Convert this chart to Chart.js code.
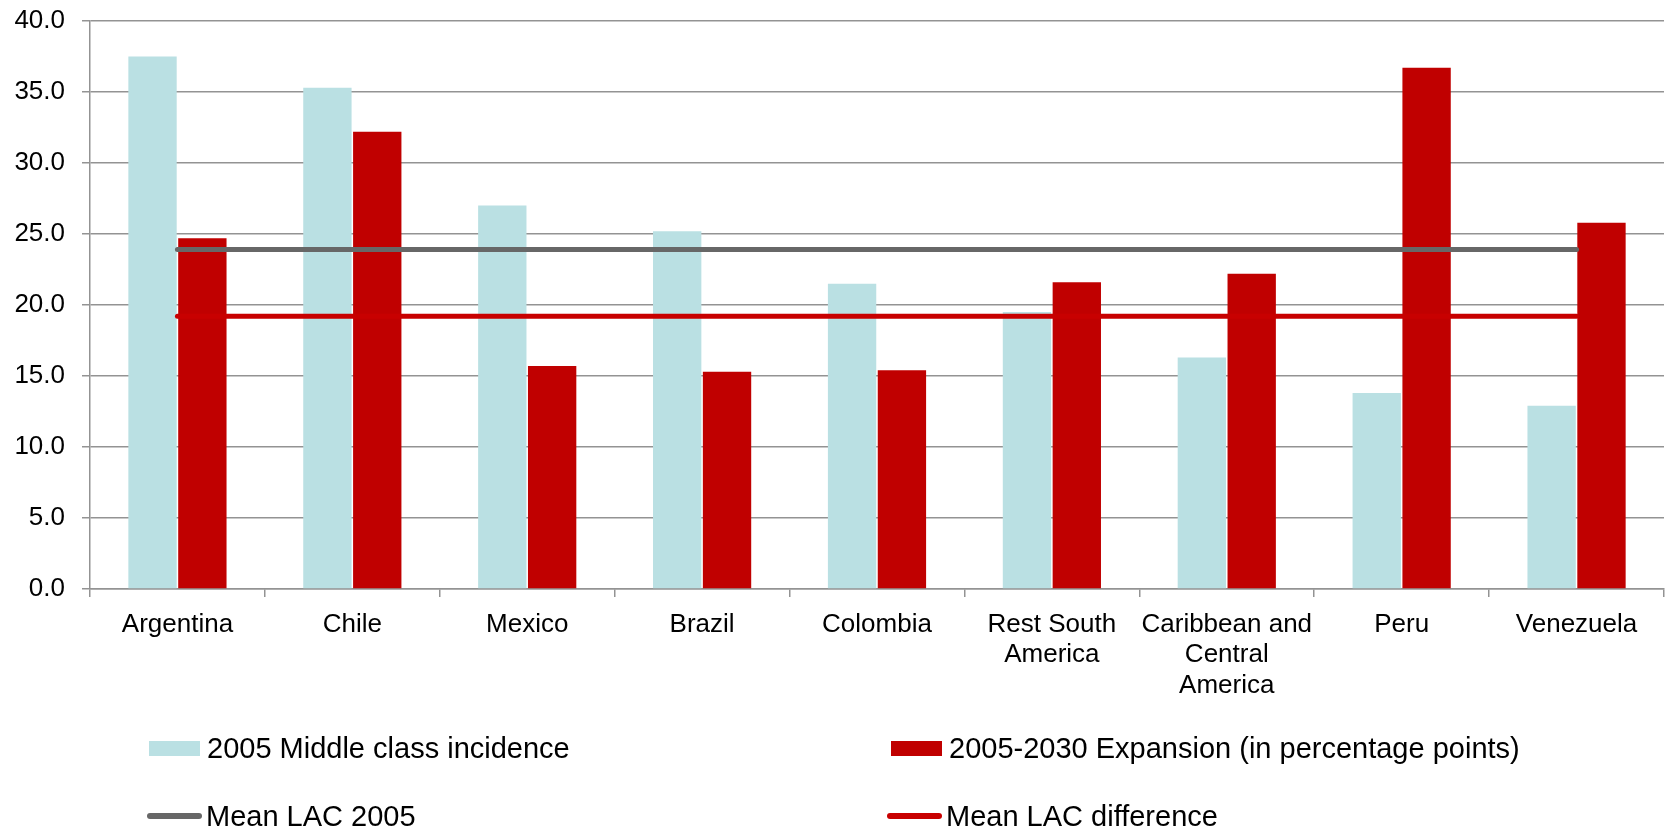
<!DOCTYPE html>
<html>
<head>
<meta charset="utf-8">
<script src="https://cdn.jsdelivr.net/npm/chart.js@4.4.1/dist/chart.umd.min.js"></script>
<style>
	body { margin: 0; background: #fff; }
	#wrap { position: relative; width: 1667px; height: 829px; }
	#legend { position: absolute; left: 0; top: 0; width: 1667px; height: 829px; pointer-events: none;
		font-family: "Liberation Sans", Arial, sans-serif; font-size: 29px; color: #000; }
	.item { position: absolute; display: flex; align-items: center; height: 36px; white-space: nowrap; }
	.box { width: 51px; height: 15px; margin-right: 7px; }
	.ln { width: 55px; height: 6px; border-radius: 3px; margin-right: 4px; }
</style>
</head>
<body>
<div id="wrap">
	<canvas id="lac-chart" width="1667" height="829"></canvas>
	<div id="legend"></div>
</div>
<script>
var countries = ["Argentina", "Chile", "Mexico", "Brazil", "Colombia", ["Rest South", "America"], ["Caribbean and", "Central", "America"], "Peru", "Venezuela"];
var incidence2005 = [37.5, 35.3, 27.0, 25.2, 21.5, 19.5, 16.3, 13.8, 12.9];
var expansion = [24.7, 32.2, 15.7, 15.3, 15.4, 21.6, 22.2, 36.7, 25.8];
var meanLac2005 = [23.9, 23.9, 23.9, 23.9, 23.9, 23.9, 23.9, 23.9, 23.9];
var meanLacDiff = [19.2, 19.2, 19.2, 19.2, 19.2, 19.2, 19.2, 19.2, 19.2];
var seriesNames = ["2005 Middle class incidence", "2005-2030 Expansion (in percentage points)", "Mean LAC 2005", "Mean LAC difference"];
var yTicks = [0, 5, 10, 15, 20, 25, 30, 35, 40];

var gridGrey = '#939393';
var font = { family: '"Liberation Sans", Arial, sans-serif', size: 26 };

var ctx = document.getElementById("lac-chart").getContext("2d");
var lacChart = new Chart(ctx, {
	data: {
		labels: countries,
		datasets: [{
			type: 'line',
			label: seriesNames[2],
			data: meanLac2005,
			borderColor: '#676767',
			borderWidth: 5,
			borderCapStyle: 'round',
			pointRadius: 0,
			order: 0
		}, {
			type: 'line',
			label: seriesNames[3],
			data: meanLacDiff,
			borderColor: '#c80000',
			borderWidth: 5,
			borderCapStyle: 'round',
			pointRadius: 0,
			order: 0
		}, {
			type: 'bar',
			label: seriesNames[0],
			data: incidence2005,
			backgroundColor: '#bae0e3',
			categoryPercentage: 0.57,
			barPercentage: 0.97,
			order: 1
		}, {
			type: 'bar',
			label: seriesNames[1],
			data: expansion,
			backgroundColor: '#c00000',
			categoryPercentage: 0.57,
			barPercentage: 0.97,
			order: 1
		}]
	},
	options: {
		responsive: false,
		animation: false,
		layout: { padding: { top: 21, right: 3, left: 0, bottom: 0 } },
		plugins: {
			legend: { display: false },
			tooltip: { enabled: false }
		},
		scales: {
			x: {
				offset: true,
				afterFit: function (s) { s.height = 240; },
				grid: { offset: true, drawOnChartArea: false, drawTicks: true, tickLength: 8, color: gridGrey, lineWidth: 1.5 },
				border: { color: gridGrey, width: 1.5 },
				ticks: { color: '#000', font: { family: font.family, size: 26, lineHeight: 1.16 }, padding: 13, maxRotation: 0, autoSkip: false }
			},
			y: {
				min: 0,
				max: 40,
				// pin the axis where the original has it
				afterFit: function (s) { s.width = 90; s.paddingTop = 0; s.paddingBottom = 0; },
				afterBuildTicks: function (s) { s.ticks = yTicks.map(function (v) { return { value: v }; }); },
				grid: { color: gridGrey, lineWidth: 1.5, tickLength: 8 },
				border: { color: gridGrey, width: 1.5 },
				ticks: {
					color: '#000',
					font: font,
					padding: 17,
					callback: function (v) { return Number(v).toFixed(1); }
				}
			}
		}
	}
});

// legend laid out as in the original: two columns, two rows
var legendItems = [
	{ name: seriesNames[0], kind: 'box', color: '#bae0e3', left: 149, top: 730 },
	{ name: seriesNames[1], kind: 'box', color: '#c00000', left: 891, top: 730 },
	{ name: seriesNames[2], kind: 'ln', color: '#676767', left: 147, top: 798 },
	{ name: seriesNames[3], kind: 'ln', color: '#c80000', left: 887, top: 798 }
];
var legend = document.getElementById("legend");
legendItems.forEach(function (it) {
	var d = document.createElement("div");
	d.className = "item";
	d.style.left = it.left + "px";
	d.style.top = it.top + "px";
	var sw = document.createElement("span");
	sw.className = it.kind;
	sw.style.background = it.color;
	var t = document.createElement("span");
	t.textContent = it.name;
	d.appendChild(sw);
	d.appendChild(t);
	legend.appendChild(d);
});
</script>
</body>
</html>
